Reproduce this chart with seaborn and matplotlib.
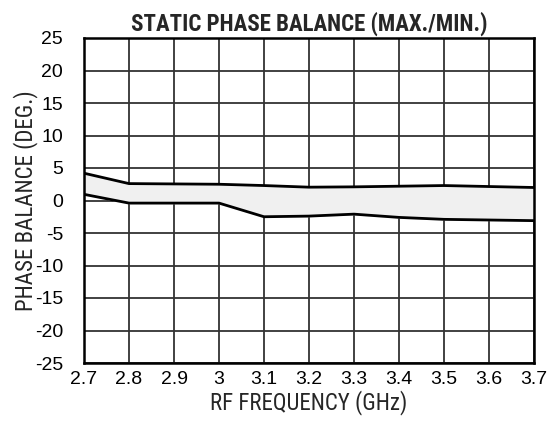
import matplotlib
matplotlib.use('Agg')
import matplotlib.pyplot as plt
from matplotlib import font_manager
from matplotlib.font_manager import FontProperties
import seaborn as sns
import pandas as pd

freq = [2.7, 2.8, 2.9, 3.0, 3.1, 3.2, 3.3, 3.4, 3.5, 3.6, 3.7]
phase_max = [4.2, 2.6, 2.55, 2.5, 2.3, 2.05, 2.1, 2.2, 2.3, 2.15, 2.0]
phase_min = [0.95, -0.4, -0.4, -0.4, -2.5, -2.4, -2.1, -2.6, -2.9, -3.0, -3.1]
x_ticks = [2.7, 2.8, 2.9, 3.0, 3.1, 3.2, 3.3, 3.4, 3.5, 3.6, 3.7]
x_labels = ['2.7', '2.8', '2.9', '3', '3.1', '3.2', '3.3', '3.4', '3.5', '3.6', '3.7']
y_ticks = list(range(-25, 30, 5))

df = pd.DataFrame({'freq': freq, 'max': phase_max, 'min': phase_min})

sns.set_style('white')
plt.rcParams['font.family'] = ['Liberation Sans', 'DejaVu Sans']
plt.rcParams['axes.unicode_minus'] = False

# look for a narrow / condensed face for the title and axis labels
files = [f.fname for f in font_manager.fontManager.ttflist]


def find_narrow(bold):
    for key in ['LiberationSansNarrow', 'RobotoCondensed', 'DejaVuSansCondensed', 'OpenSans_Condensed',
                'OpenSansCondensed', 'NotoSans-Condensed', 'NotoSansCondensed']:
        for fn in sorted(files):
            base = fn.split('/')[-1].replace(' ', '')
            if key.lower() in base.lower() and 'italic' not in base.lower() and 'oblique' not in base.lower():
                is_bold = 'bold' in base.lower() and 'semibold' not in base.lower() and 'extrabold' not in base.lower()
                if bold == is_bold:
                    return FontProperties(fname=fn)
    return FontProperties(family='Roboto', weight='bold' if bold else 'normal')


fp_title = find_narrow(True)
fp_label = find_narrow(False)
fp_title.set_size(16.5)
fp_label.set_size(16.5)

fig = plt.figure(figsize=(5.56, 4.21), dpi=100)
ax = fig.add_axes([84 / 556, 1 - 363 / 421, 450 / 556, 325 / 421])

ax.fill_between(df['freq'], df['min'], df['max'], color='#f0f0f0', zorder=1)
sns.lineplot(data=df, x='freq', y='max', color='black', linewidth=2, ax=ax, zorder=3)
sns.lineplot(data=df, x='freq', y='min', color='black', linewidth=2, ax=ax, zorder=3)

ax.set_xlim(2.7, 3.7)
ax.set_ylim(-25, 25)
ax.set_xticks(x_ticks)
ax.set_xticklabels(x_labels)
ax.set_yticks(y_ticks)
ax.grid(True, color='#333333', linewidth=1.3, zorder=0)
ax.set_axisbelow(True)
for s in ax.spines.values():
    s.set_color('black')
    s.set_linewidth(1.8)
ax.tick_params(axis='both', length=0, labelsize=14, colors='black')
ax.tick_params(axis='x', pad=6)
ax.tick_params(axis='y', pad=15)

ax.set_title('STATIC PHASE BALANCE (MAX./MIN.)', fontproperties=fp_title, pad=5)
ax.set_xlabel('RF FREQUENCY (GHz)', fontproperties=fp_label, labelpad=1)
ax.set_ylabel('PHASE BALANCE (DEG.)', fontproperties=fp_label, labelpad=-2)

fig.savefig('out.png', dpi=100)
